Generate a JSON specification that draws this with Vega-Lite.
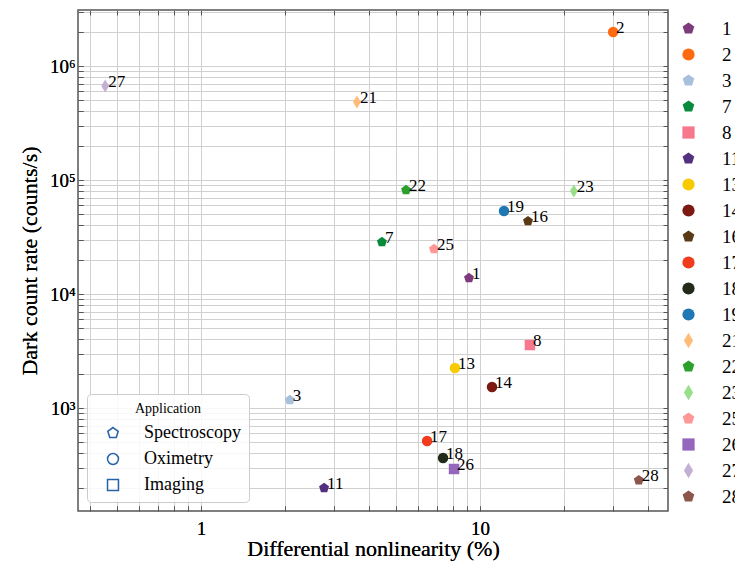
{
  "$schema": "https://vega.github.io/schema/vega-lite/v6.json",
  "width": 590,
  "height": 501,
  "autosize": "none",
  "padding": {"left": 78, "top": 10, "right": 67, "bottom": 54},
  "background": "white",
  "config": {
    "font": "Liberation Serif",
    "view": {"stroke": "#555555", "strokeWidth": 1.5},
    "axis": {
      "domain": false,
      "grid": true,
      "gridColor": "#d0d0d0",
      "gridWidth": 1,
      "tickColor": "#555555",
      "tickSize": -5,
      "labelFont": "Liberation Serif",
      "titleFont": "Liberation Serif",
      "labelColor": "black",
      "titleColor": "black",
      "titleFontWeight": "normal",
      "labelFontSize": 19,
      "titleFontSize": 22
    },
    "legend": {"labelFont": "Liberation Serif", "titleFont": "Liberation Serif", "labelColor": "black", "titleColor": "black"}
  },
  "data": {
    "values": [
      {"id": "1", "dnl": 9.13, "dcr": 13800, "app": "Spectroscopy"},
      {"id": "2", "dnl": 30.0, "dcr": 1990000, "app": "Oximetry"},
      {"id": "3", "dnl": 2.08, "dcr": 1175, "app": "Spectroscopy"},
      {"id": "7", "dnl": 4.45, "dcr": 28600, "app": "Spectroscopy"},
      {"id": "8", "dnl": 15.1, "dcr": 3570, "app": "Imaging"},
      {"id": "11", "dnl": 2.76, "dcr": 199, "app": "Spectroscopy"},
      {"id": "13", "dnl": 8.13, "dcr": 2245, "app": "Oximetry"},
      {"id": "14", "dnl": 11.04, "dcr": 1528, "app": "Oximetry"},
      {"id": "16", "dnl": 14.86, "dcr": 43600, "app": "Spectroscopy"},
      {"id": "17", "dnl": 6.46, "dcr": 514, "app": "Oximetry"},
      {"id": "18", "dnl": 7.37, "dcr": 364, "app": "Oximetry"},
      {"id": "19", "dnl": 12.19, "dcr": 53500, "app": "Oximetry"},
      {"id": "21", "dnl": 3.62, "dcr": 483000, "app": "Other"},
      {"id": "22", "dnl": 5.43, "dcr": 81700, "app": "Spectroscopy"},
      {"id": "23", "dnl": 21.7, "dcr": 80200, "app": "Other"},
      {"id": "25", "dnl": 6.84, "dcr": 24800, "app": "Spectroscopy"},
      {"id": "26", "dnl": 8.07, "dcr": 292, "app": "Imaging"},
      {"id": "27", "dnl": 0.453, "dcr": 668000, "app": "Other"},
      {"id": "28", "dnl": 37.1, "dcr": 233, "app": "Spectroscopy"}
    ]
  },
  "encoding": {
    "x": {
      "field": "dnl",
      "type": "quantitative",
      "scale": {"type": "log", "domain": [0.362, 47.2], "nice": false},
      "title": "Differential  nonlinearity (%)",
      "axis": {
        "values": [0.4, 0.5, 0.6, 0.7, 0.8, 0.9, 1, 2, 3, 4, 5, 6, 7, 8, 9, 10, 20, 30, 40],
        "labelExpr": "datum.value == 1 ? '1' : datum.value == 10 ? '10' : ''",
        "labelPadding": 13,
        "titlePadding": 0,
        "encode": {"ticks": {"update": {"y2": {"signal": "datum.value == 1 || datum.value == 10 ? -6 : -3"}}}}
      }
    },
    "y": {
      "field": "dcr",
      "type": "quantitative",
      "scale": {"type": "log", "domain": [125, 3100000], "nice": false},
      "title": "Dark count rate (counts/s)",
      "axis": {
        "values": [200, 300, 400, 500, 600, 700, 800, 900, 1000, 2000, 3000, 4000, 5000, 6000, 7000, 8000, 9000, 10000, 20000, 30000, 40000, 50000, 60000, 70000, 80000, 90000, 100000, 200000, 300000, 400000, 500000, 600000, 700000, 800000, 900000, 1000000, 2000000, 3000000],
        "labelExpr": "datum.value == 1000 ? '10³' : datum.value == 10000 ? '10⁴' : datum.value == 100000 ? '10⁵' : datum.value == 1000000 ? '10⁶' : ''",
        "labelPadding": 8,
        "titlePadding": 8,
        "encode": {"ticks": {"update": {"x2": {"signal": "datum.value == 1000 || datum.value == 10000 || datum.value == 100000 || datum.value == 1000000 ? 6 : 3"}}}}
      }
    }
  },
  "layer": [
    {
      "mark": {"type": "point", "filled": true, "opacity": 1, "size": 110, "strokeWidth": 0},
      "encoding": {
        "color": {
          "field": "id",
          "type": "nominal",
          "scale": {
            "domain": ["1", "2", "3", "7", "8", "11", "13", "14", "16", "17", "18", "19", "21", "22", "23", "25", "26", "27", "28"],
            "range": ["#7e3b7c", "#ff6a10", "#a9c0dd", "#0a8a3c", "#f7788c", "#543080", "#f7cb00", "#7c1a12", "#583a16", "#f03b1c", "#222b19", "#1f77b4", "#ffbb78", "#2ca02c", "#98df8a", "#ff9896", "#9467bd", "#c5b0d5", "#8c564b"]
          },
          "legend": {
            "orient": "none",
            "legendX": 601,
            "legendY": 9,
            "title": null,
            "padding": 0,
            "symbolSize": 150,
            "symbolStrokeWidth": 0,
            "labelFontSize": 19,
            "labelOffset": 24,
            "rowPadding": 6
          }
        },
        "shape": {
          "field": "id",
          "type": "nominal",
          "scale": {
            "domain": ["1", "2", "3", "7", "8", "11", "13", "14", "16", "17", "18", "19", "21", "22", "23", "25", "26", "27", "28"],
            "range": [
              "M0,-1L0.951,-0.309L0.588,0.809L-0.588,0.809L-0.951,-0.309Z",
              "circle",
              "M0,-1L0.951,-0.309L0.588,0.809L-0.588,0.809L-0.951,-0.309Z",
              "M0,-1L0.951,-0.309L0.588,0.809L-0.588,0.809L-0.951,-0.309Z",
              "square",
              "M0,-1L0.951,-0.309L0.588,0.809L-0.588,0.809L-0.951,-0.309Z",
              "circle",
              "circle",
              "M0,-1L0.951,-0.309L0.588,0.809L-0.588,0.809L-0.951,-0.309Z",
              "circle",
              "circle",
              "circle",
              "M0,-1.25L0.75,0L0,1.25L-0.75,0Z",
              "M0,-1L0.951,-0.309L0.588,0.809L-0.588,0.809L-0.951,-0.309Z",
              "M0,-1.25L0.75,0L0,1.25L-0.75,0Z",
              "M0,-1L0.951,-0.309L0.588,0.809L-0.588,0.809L-0.951,-0.309Z",
              "square",
              "M0,-1.25L0.75,0L0,1.25L-0.75,0Z",
              "M0,-1L0.951,-0.309L0.588,0.809L-0.588,0.809L-0.951,-0.309Z"
            ]
          },
          "legend": {
            "orient": "none",
            "legendX": 601,
            "legendY": 9,
            "title": null,
            "padding": 0,
            "symbolSize": 150,
            "symbolStrokeWidth": 0,
            "labelFontSize": 19,
            "labelOffset": 24,
            "rowPadding": 6
          }
        }
      }
    },
    {
      "mark": {"type": "text", "align": "left", "baseline": "alphabetic", "dx": 3, "dy": 1, "fontSize": 17, "font": "Liberation Serif", "color": "black"},
      "encoding": {
        "text": {"field": "id"},
        "x": {
          "field": "dnl",
          "type": "quantitative",
          "scale": {"type": "log", "domain": [0.362, 47.2], "nice": false},
          "axis": {
            "orient": "top",
            "values": [0.4, 0.5, 0.6, 0.7, 0.8, 0.9, 1, 2, 3, 4, 5, 6, 7, 8, 9, 10, 20, 30, 40],
            "labels": false,
            "grid": false,
            "title": null,
            "encode": {"ticks": {"update": {"y2": {"signal": "datum.value == 1 || datum.value == 10 ? 6 : 3"}}}}
          }
        },
        "y": {
          "field": "dcr",
          "type": "quantitative",
          "scale": {"type": "log", "domain": [125, 3100000], "nice": false},
          "axis": {
            "orient": "right",
            "values": [200, 300, 400, 500, 600, 700, 800, 900, 1000, 2000, 3000, 4000, 5000, 6000, 7000, 8000, 9000, 10000, 20000, 30000, 40000, 50000, 60000, 70000, 80000, 90000, 100000, 200000, 300000, 400000, 500000, 600000, 700000, 800000, 900000, 1000000, 2000000, 3000000],
            "labels": false,
            "grid": false,
            "title": null,
            "encode": {"ticks": {"update": {"x2": {"signal": "datum.value == 1000 || datum.value == 10000 || datum.value == 100000 || datum.value == 1000000 ? -6 : -3"}}}}
          }
        }
      }
    },
    {
      "transform": [{"filter": "datum.app != 'Other'"}],
      "mark": {"type": "point", "opacity": 0, "size": 110, "filled": true},
      "encoding": {
        "fill": {
          "field": "app",
          "type": "nominal",
          "scale": {
            "domain": ["Spectroscopy", "Oximetry", "Imaging"],
            "range": ["transparent", "transparent", "transparent"]
          },
          "legend": {
            "orient": "bottom-left",
            "title": "Application",
            "offset": 9,
            "padding": 8,
            "fillColor": "rgba(255,255,255,0.85)",
            "strokeColor": "#cccccc",
            "cornerRadius": 4,
            "titleFontSize": 14,
            "titleFontWeight": "normal",
            "titleAnchor": "middle",
            "titlePadding": 8,
            "labelFontSize": 18,
            "labelOffset": 22,
            "rowPadding": 8,
            "symbolOffset": 9,
            "symbolSize": 120,
            "symbolStrokeColor": "#2563a8",
            "symbolStrokeWidth": 1.5,
            "symbolOpacity": 1,
            "encode": {
              "symbols": {
                "update": {
                  "shape": {"signal": "datum.value == 'Spectroscopy' ? 'M0,-1L0.951,-0.309L0.588,0.809L-0.588,0.809L-0.951,-0.309Z' : datum.value == 'Oximetry' ? 'circle' : 'square'"},
                  "fill": {"value": "transparent"},
                  "stroke": {"value": "#2563a8"},
                  "strokeWidth": {"value": 1.5},
                  "opacity": {"value": 1}
                }
              }
            }
          }
        }
      }
    }
  ],
  "resolve": {"axis": {"x": "independent", "y": "independent"}}
}
